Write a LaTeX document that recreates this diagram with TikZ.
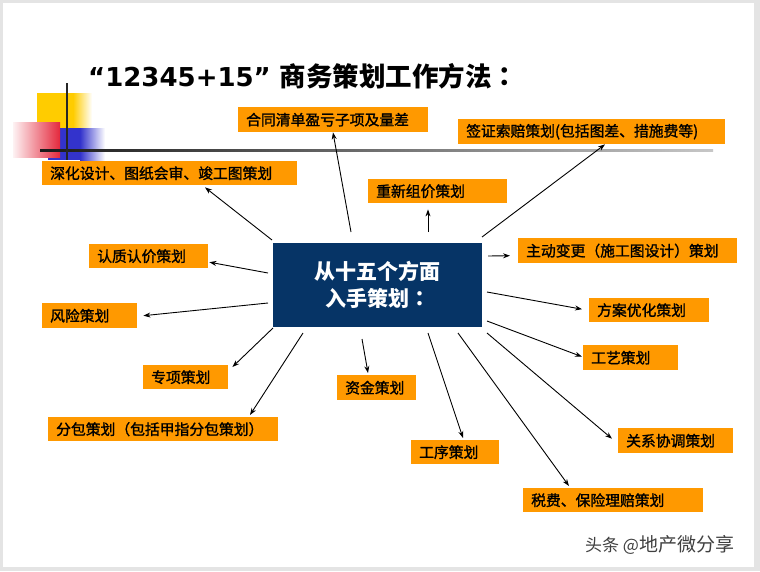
\documentclass[tikz,border=0pt]{standalone}
\usepackage{fontspec}
\usetikzlibrary{arrows.meta}
\newfontfamily\cjk{Noto Sans CJK SC}
\newfontfamily\cjktc{Noto Sans CJK TC}
\newfontfamily\cjkfb{Noto Sans CJK SC}[FakeBold=1.4]
\newfontfamily\lat{DejaVu Sans}
\definecolor{orng}{RGB}{255,153,0}
\definecolor{navy}{RGB}{6,52,102}
\definecolor{framec}{RGB}{228,228,228}
\definecolor{ylw}{RGB}{255,204,0}
\definecolor{blu}{RGB}{51,51,204}
\definecolor{rd}{RGB}{228,40,60}
\begin{document}
\begin{tikzpicture}[x=1pt,y=-1pt,
  obox/.style={fill=orng, anchor=north west, inner xsep=8pt, inner ysep=0pt,
    align=left, text=black, font=\cjkfb\fontsize{14.8}{16}\selectfont},
  arr/.style={draw=black, line width=0.9pt, -{Stealth[length=7pt,width=5pt]}}]
\useasboundingbox (0,0) rectangle (760,571);
% slide frame
\fill[framec] (0,0) rectangle (760,571);
\fill[white] (3,3) rectangle (754,567);
% decoration
\fill[ylw] (37,93) rectangle (73,128);
\shade[left color=ylw, right color=white] (73,93) rectangle (92,128);
\fill[blu] (48,128) rectangle (80,160);
\shade[left color=blu, right color=white] (80,128) rectangle (105,160);
\shade[left color=rd!6, right color=rd] (13,122) rectangle (60,157);
\shade[left color=black!90, right color=black!22] (40,149) rectangle (713,151.5);
\draw[line width=2pt, black!85] (67,83) -- (67,160);
% title
\node[anchor=base west, inner sep=0] (title) at (88,86)
  {{\lat\bfseries\fontsize{26}{30}\selectfont “12345+15”}\hspace{9pt}{\cjk\bfseries\fontsize{26.5}{30}\selectfont 商务策划工作方法{\cjktc ：}}};
% centre
\node[fill=navy, anchor=north west, minimum width=209pt, minimum height=84pt,
  inner sep=0pt, text=white, align=center,
  font=\cjk\bfseries\fontsize{21}{27}\selectfont] (c) at (273,243) {从十五个方面\\入手策划{\cjktc ：}};
% boxes
\node[obox, text width=174pt, minimum height=25pt] (b1) at (238,107) {合同清单盈亏子项及量差};
\node[obox, text width=251pt, minimum height=25pt] (b2) at (458,119) {签证索赔策划(包括图差、措施费等)};
\node[obox, text width=239pt, minimum height=24pt] (b3) at (42,161) {深化设计、图纸会审、竣工图策划};
\node[obox, text width=123pt, minimum height=24pt] (b4) at (368,179) {重新组价策划};
\node[obox, text width=203pt, minimum height=25pt] (b5) at (518,238) {主动变更（施工图设计）策划};
\node[obox, text width=103pt, minimum height=24pt] (b6) at (89,244) {认质认价策划};
\node[obox, text width=79pt, minimum height=25pt] (b7) at (42,303) {风险策划};
\node[obox, text width=69pt, minimum height=24pt] (b8) at (143,365) {专项策划};
\node[obox, text width=214pt, minimum height=24pt] (b9) at (48,417) {分包策划（包括甲指分包策划）};
\node[obox, text width=63pt, minimum height=25pt] (b11) at (337,375) {资金策划};
\node[obox, text width=72pt, minimum height=24pt] (b12) at (411,440) {工序策划};
\node[obox, text width=104pt, minimum height=24pt] (b13) at (589,298) {方案优化策划};
\node[obox, text width=79pt, minimum height=25pt] (b14) at (583,345) {工艺策划};
\node[obox, text width=99pt, minimum height=25pt] (b15) at (618,428) {关系协调策划};
\node[obox, text width=164pt, minimum height=24pt] (b16) at (523,488) {税费、保险理赔策划};
% arrow start points
\coordinate (s1) at (351,232);
\coordinate (s2) at (482,237);
\coordinate (s3) at (272,240);
\coordinate (s4) at (428,232);
\coordinate (s5) at (488,256);
\coordinate (s6) at (268,273);
\coordinate (s7) at (268,303);
\coordinate (s8) at (273,328);
\coordinate (s9) at (303,333);
\coordinate (s11) at (362,339);
\coordinate (s12) at (428,333);
\coordinate (s13) at (487,292);
\coordinate (s14) at (487,321);
\coordinate (s15) at (487,333);
\coordinate (s16) at (458,333);
% arrows
\draw[arr] (s1) -- ([xshift=95pt]b1.south west);
\draw[arr] (s2) -- ([xshift=147pt]b2.south west);
\draw[arr] (s3) -- ([shift={(163pt,-2pt)}]b3.south west);
\draw[arr] (s4) -- ([shift={(60pt,-6pt)}]b4.south west);
\draw[arr] (s5) -- ([shift={(-8pt,-5pt)}]b5.west);
\draw[arr] (s6) -- ([shift={(1pt,-6pt)}]b6.east);
\draw[arr] (s7) -- ([xshift=6pt]b7.east);
\draw[arr] (s8) -- ([shift={(4pt,-2pt)}]b8.north east);
\draw[arr] (s9) -- ([shift={(202pt,2pt)}]b9.north west);
\draw[arr] (s11) -- ([shift={(31pt,2pt)}]b11.north west);
\draw[arr] (s12) -- ([shift={(52pt,2pt)}]b12.north west);
\draw[arr] (s13) -- ([shift={(-7pt,1pt)}]b13.west);
\draw[arr] (s14) -- ([shift={(-1pt,1pt)}]b14.west);
\draw[arr] (s15) -- ([shift={(-6pt,2pt)}]b15.west);
\draw[arr] (s16) -- ([shift={(46pt,2pt)}]b16.north west);
% watermark
\node[anchor=west, inner sep=0, text=black!75] (wm) at (585,545)
  {{\cjk\fontsize{17}{18}\selectfont 头条 @}{\cjk\fontsize{19}{20}\selectfont 地产微分享}};
\end{tikzpicture}
\end{document}
